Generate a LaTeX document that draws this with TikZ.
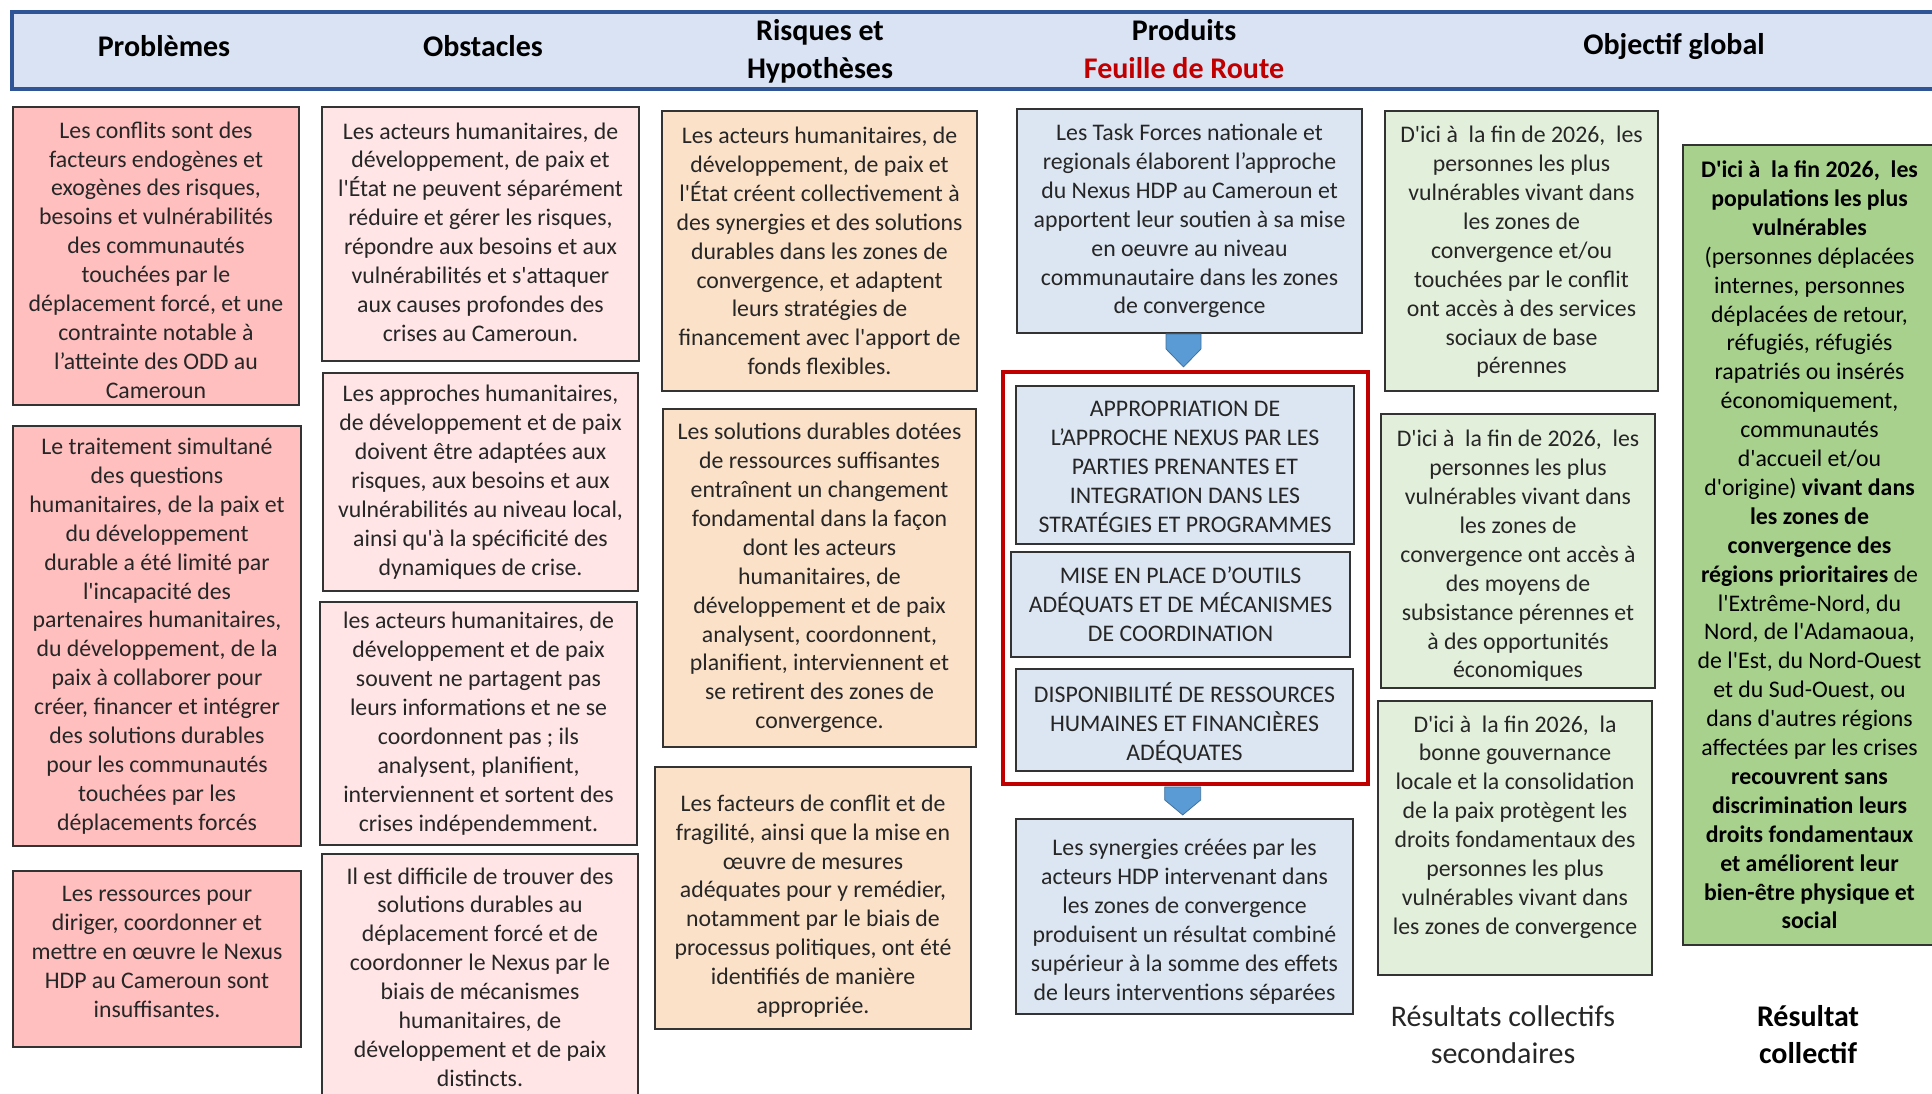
\documentclass[tikz,border=0pt]{standalone}
\usepackage{fontspec}
\setmainfont{Carlito}
\usetikzlibrary{calc}
\definecolor{hdrfill}{HTML}{DAE3F3}
\definecolor{hdrline}{HTML}{2F5597}
\definecolor{pfill}{HTML}{FFBFBF}
\definecolor{ofill}{HTML}{FFE5E5}
\definecolor{rfill}{HTML}{FCE1C9}
\definecolor{bfill}{HTML}{DCE6F2}
\definecolor{gfill}{HTML}{E2EFDA}
\definecolor{gofill}{HTML}{A9D18E}
\definecolor{chevfill}{HTML}{5B9BD5}
\definecolor{chevline}{HTML}{41719C}
\definecolor{redframe}{HTML}{C00000}
\definecolor{boxline}{HTML}{333333}
\definecolor{txtcol}{HTML}{262626}
\newcommand\ap{\textquotesingle}
\newcommand\bbox[7]{\node[#2, minimum width={(#5-#3)*0.5pt}, minimum height={(#6-#4)*0.5pt}] (#1) at ({(#3+#5)/2},{(#4+#6)/2}) {#7};}
% box with its text shifted vertically by #7 px
\newcommand\shbox[8]{\node[#2, minimum width={(#5-#3)*0.5pt}, minimum height={(#6-#4)*0.5pt}] (#1) at ({(#3+#5)/2},{(#4+#6)/2}) {};
  \node[txtonly] (#1t) at ($(#1.center)+(0,#7)$) {#8};}
\tikzset{
  cbox/.style={draw=boxline, line width=0.9pt, align=center, text=txtcol, inner sep=2pt, font=\fontsize{11.9}{14.45}\selectfont},
  pbox/.style={cbox, fill=pfill},
  obox/.style={cbox, fill=ofill},
  rbox/.style={cbox, fill=rfill},
  bbx/.style={cbox, fill=bfill},
  gbox/.style={cbox, fill=gfill},
  gobox/.style={cbox, fill=gofill, text=black},
  txtonly/.style={align=center, text=txtcol, inner sep=0pt, font=\fontsize{11.9}{14.45}\selectfont},
  hdrbox/.style={draw=hdrline, line width=2pt, fill=hdrfill},
  htxt/.style={align=center, text=black, inner sep=0pt, font=\fontsize{15}{19}\selectfont\bfseries},
  frm/.style={draw=redframe, line width=1.9pt},
  chev/.style={fill=chevfill, draw=chevline, line width=0.4pt},
  lbl/.style={align=center, inner sep=0pt, font=\fontsize{15}{18.5}\selectfont}
}
\begin{document}
\begin{tikzpicture}[x=0.5pt,y=-0.5pt]
\useasboundingbox (0,0) rectangle (1932,1093);
\clip (0,0) rectangle (1932,1093);
\fill[white] (0,0) rectangle (1932,1093);

% header
\bbox{hdr}{hdrbox}{12}{12}{1970}{89}{}
\node[htxt] (h1) at (164,46) {Problèmes};
\node[htxt] (h2) at (483,46) {Obstacles};
\node[htxt] (h3) at (820,51) {Risques et\\Hypothèses};
\node[htxt] (h4) at (1184,49) {Produits\\\textcolor{redframe}{Feuille de Route}};
\node[htxt] (h5) at (1674,46) {Objectif global};

% Problemes
\shbox{p1}{pbox}{13}{107}{299}{405}{4}{Les conflits sont des\\facteurs endogènes et\\exogènes des risques,\\besoins et vulnérabilités\\des communautés\\touchées par le\\déplacement forcé, et une\\contrainte notable à\\l’atteinte des ODD au\\Cameroun}
\bbox{p2}{pbox}{13}{426}{301}{846}{Le traitement simultané\\des questions\\humanitaires, de la paix et\\du développement\\durable a été limité par\\l\ap incapacité des\\partenaires humanitaires,\\du développement, de la\\paix à collaborer pour\\créer, financer et intégrer\\des solutions durables\\pour les communautés\\touchées par les\\déplacements forcés}
\shbox{p3}{pbox}{13}{871}{301}{1047}{-7}{Les ressources pour\\diriger, coordonner et\\mettre en œuvre le Nexus\\HDP au Cameroun sont\\insuffisantes.}

% Obstacles
\shbox{o1}{obox}{322}{107}{639}{361}{-2}{Les acteurs humanitaires, de\\développement, de paix et\\l\ap État ne peuvent séparément\\réduire et gérer les risques,\\répondre aux besoins et aux\\vulnérabilités et s\ap attaquer\\aux causes profondes des\\crises au Cameroun.}
\bbox{o2}{obox}{323}{373}{638}{591}{Les approches humanitaires,\\de développement et de paix\\doivent être adaptées aux\\risques, aux besoins et aux\\vulnérabilités au niveau local,\\ainsi qu\ap à la spécificité des\\dynamiques de crise.}
\bbox{o3}{obox}{320}{602}{637}{845}{les acteurs humanitaires, de\\développement et de paix\\souvent ne partagent pas\\leurs informations et ne se\\coordonnent pas ; ils\\analysent, planifient,\\interviennent et sortent des\\crises indépendemment.}
\bbox{o4}{obox}{322}{854}{638}{1100}{Il est difficile de trouver des\\solutions durables au\\déplacement forcé et de\\coordonner le Nexus par le\\biais de mécanismes\\humanitaires, de\\développement et de paix\\distincts.}

% Risques
\bbox{r1}{rbox}{662}{111}{977}{391}{Les acteurs humanitaires, de\\développement, de paix et\\l\ap État créent collectivement à\\des synergies et des solutions\\durables dans les zones de\\convergence, et adaptent\\leurs stratégies de\\financement avec l\ap apport de\\fonds flexibles.}
\bbox{r2}{rbox}{663}{409}{976}{747}{Les solutions durables dotées\\de ressources suffisantes\\entraînent un changement\\fondamental dans la façon\\dont les acteurs\\humanitaires, de\\développement et de paix\\analysent, coordonnent,\\planifient, interviennent et\\se retirent des zones de\\convergence.}
\shbox{r3}{rbox}{655}{767}{971}{1029}{8}{Les facteurs de conflit et de\\fragilité, ainsi que la mise en\\œuvre de mesures\\adéquates pour y remédier,\\notamment par le biais de\\processus politiques, ont été\\identifiés de manière\\appropriée.}

% Produits
\bbox{t1}{bbx}{1017}{109}{1362}{333}{Les Task Forces nationale et\\regionals élaborent l’approche\\du Nexus HDP au Cameroun et\\apportent leur soutien à sa mise\\en oeuvre au niveau\\communautaire dans les zones\\de convergence}
\bbox{frame}{frm}{1003}{372}{1368}{784}{}
\shbox{a1}{bbx}{1016}{386}{1354}{544}{2}{APPROPRIATION DE\\L’APPROCHE NEXUS PAR LES\\PARTIES PRENANTES ET\\INTEGRATION DANS LES\\STRATÉGIES ET PROGRAMMES}
\bbox{a2}{bbx}{1011}{552}{1350}{657}{MISE EN PLACE D’OUTILS\\ADÉQUATS ET DE MÉCANISMES\\DE COORDINATION}
\shbox{a3}{bbx}{1016}{669}{1353}{771}{3}{DISPONIBILITÉ DE RESSOURCES\\HUMAINES ET FINANCIÈRES\\ADÉQUATES}
\shbox{s1}{bbx}{1016}{819}{1353}{1014}{5}{Les synergies créées par les\\acteurs HDP intervenant dans\\les zones de convergence\\produisent un résultat combiné\\supérieur à la somme des effets\\de leurs interventions séparées}

% chevrons
\coordinate (cx1) at (1183.5,0);
\coordinate (cx2) at (1182.7,0);
\coordinate (ch1) at (t1.south -| cx1);
\coordinate (ch2) at (frame.south -| cx2);
\draw[chev] ($(ch1)+(-17.5,0)$) -- ++(35,0) -- ++(0,15) -- ($(ch1)+(0,33)$) -- ($(ch1)+(-17.5,15)$) -- cycle;
\draw[chev] ($(ch2)+(-18,1)$) -- ++(36,0) -- ++(0,13) -- ($(ch2)+(0,29)$) -- ($(ch2)+(-18,14)$) -- cycle;

% Resultats secondaires
\shbox{g1}{gbox}{1385}{111}{1658}{391}{1}{D\ap ici à~ la fin de 2026,~ les\\personnes les plus\\vulnérables vivant dans\\les zones de\\convergence et/ou\\touchées par le conflit\\ont accès à des services\\sociaux de base\\pérennes}
\shbox{g2}{gbox}{1381}{414}{1655}{688}{5}{D\ap ici à~ la fin de 2026,~ les\\personnes les plus\\vulnérables vivant dans\\les zones de\\convergence ont accès à\\des moyens de\\subsistance pérennes et\\à des opportunités\\économiques}
\shbox{g3}{gbox}{1378}{701}{1652}{975}{-11}{D\ap ici à~ la fin 2026,~ la\\bonne gouvernance\\locale et la consolidation\\de la paix protègent les\\droits fondamentaux des\\personnes les plus\\vulnérables vivant dans\\les zones de convergence}

% Resultat collectif
\bbox{go}{gobox}{1683}{145}{1936}{945}{\textbf{D\ap ici à~ la fin 2026,~ les}\\\textbf{populations les plus}\\\textbf{vulnérables}\\(personnes déplacées\\internes, personnes\\déplacées de retour,\\réfugiés, réfugiés\\rapatriés ou insérés\\économiquement,\\communautés\\d\ap accueil et/ou\\d\ap origine) \textbf{vivant dans}\\\textbf{les zones de}\\\textbf{convergence des}\\\textbf{régions prioritaires} de\\l\ap Extrême-Nord, du\\Nord, de l\ap Adamaoua,\\de l\ap Est, du Nord-Ouest\\et du Sud-Ouest, ou\\dans d\ap autres régions\\affectées par les crises\\\textbf{recouvrent sans}\\\textbf{discrimination leurs}\\\textbf{droits fondamentaux}\\\textbf{et améliorent leur}\\\textbf{bien-être physique et}\\\textbf{social}}

% bottom labels
\node[lbl, text=txtcol] (l1) at (1503,1035) {Résultats collectifs\\secondaires};
\node[lbl, text=black, font=\fontsize{15}{18.5}\selectfont\bfseries] (l2) at (1808,1035) {Résultat\\collectif};
\end{tikzpicture}
\end{document}
